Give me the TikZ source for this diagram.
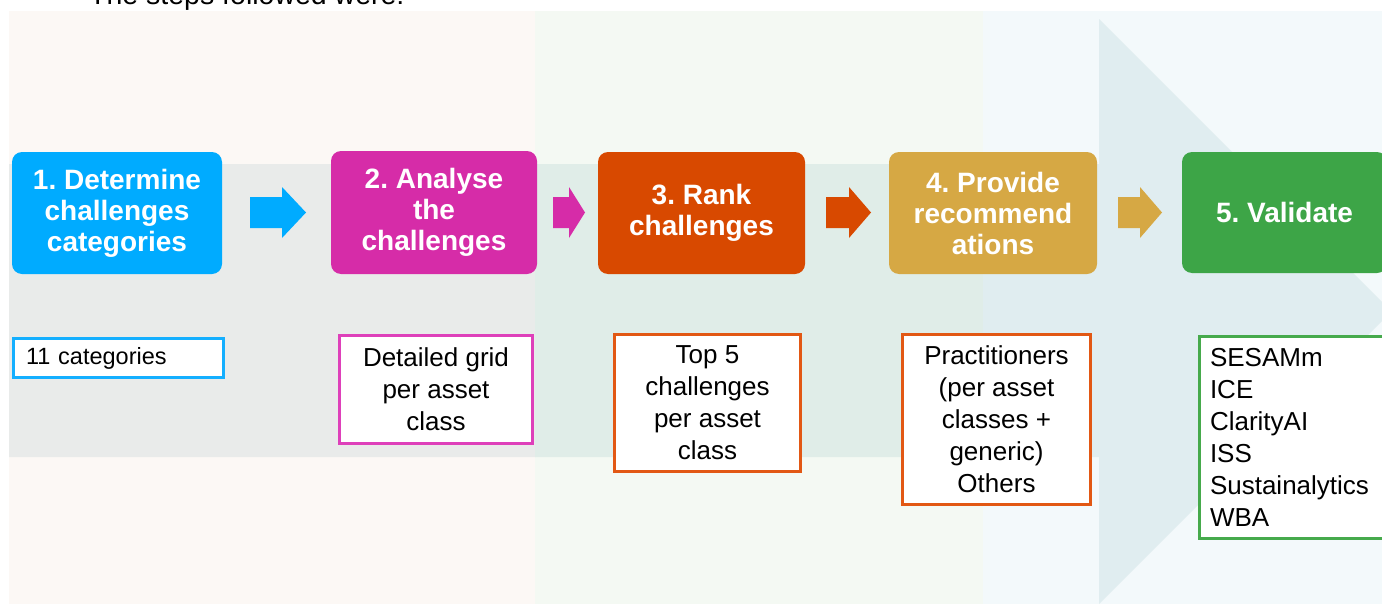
\documentclass[tikz,border=0pt]{standalone}
\usepackage{fontspec}
\setmainfont{Liberation Sans}
\frenchspacing

% step colours
\definecolor{stepblue}{RGB}{0,171,255}
\definecolor{stepmagenta}{RGB}{214,44,168}
\definecolor{steporange}{RGB}{216,73,0}
\definecolor{stepgold}{RGB}{214,168,68}
\definecolor{stepgreen}{RGB}{61,165,71}
% outline colours of the result boxes
\definecolor{edgeblue}{RGB}{20,175,255}
\definecolor{edgemagenta}{RGB}{222,64,186}
\definecolor{edgeorange}{RGB}{226,88,20}
\definecolor{edgegreen}{RGB}{70,170,76}
% background panels and the big arrow over each of them
\definecolor{panelpeach}{RGB}{252,248,245}
\definecolor{panelmint}{RGB}{244,249,243}
\definecolor{panelice}{RGB}{243,249,251}
\definecolor{bandpeach}{RGB}{233,235,234}
\definecolor{bandmint}{RGB}{224,237,232}
\definecolor{bandice}{RGB}{224,237,240}

% the wide process arrow behind all steps
\newcommand\bandshape[1]{\fill[#1] (9,164) -- (1099,164) -- (1099,19) -- (1391.5,311.5) -- (1099,604) -- (1099,457) -- (9,457) -- cycle;}
% short block arrow between two steps: colour, tail x, head base x, tip x
\newcommand\fatarrow[4]{\fill[#1] (#2,197) -- (#3,197) -- (#3,187) -- (#4,212.5) -- (#3,238) -- (#3,228) -- (#2,228) -- cycle;}

\begin{document}
\begin{tikzpicture}[x=1pt,y=-1pt,
  stepbox/.style={rounded corners=10pt, fill=#1, text=white, inner sep=0pt,
    font=\bfseries\fontsize{28}{31}\selectfont, align=center},
  resultbox/.style={draw=#1, line width=3pt, fill=white, inner sep=0pt,
    font=\fontsize{26}{32}\selectfont, align=center}]

\useasboundingbox (0,0) rectangle (1382,605);

% heading line above the figure
\node[anchor=base west, inner sep=0pt, font=\fontsize{28.5}{30}\selectfont] (heading) at (89,5) {The steps followed were:};

% background panels
\fill[panelpeach] (9,11) rectangle (535,604);
\fill[panelmint] (535,11) rectangle (983,604);
\fill[panelice] (983,11) rectangle (1382,604);

% process arrow, tinted per panel
\begin{scope}
  \clip (9,11) rectangle (535,604);
  \bandshape{bandpeach}
\end{scope}
\begin{scope}
  \clip (535,11) rectangle (983,604);
  \bandshape{bandmint}
\end{scope}
\begin{scope}
  \clip (983,11) rectangle (1400,604);
  \bandshape{bandice}
\end{scope}

% steps
\node[stepbox=stepblue, minimum width=210, minimum height=122] (s1) at (117,213)
  {1. Determine\\challenges\\categories};
\node[stepbox=stepmagenta, minimum width=206, minimum height=123] (s2) at (434,212.5)
  {2. Analyse\\the\\challenges};
\node[stepbox=steporange, minimum width=207, minimum height=122] (s3) at (701.5,213)
  {3. Rank\\challenges};
\node[stepbox=stepgold, minimum width=208, minimum height=122] (s4) at (993,213)
  {4. Provide\\recommend\\ations};
\node[stepbox=stepgreen, minimum width=205, minimum height=121] (s5) at (1284.5,212.5)
  {5. Validate};

% arrows between steps
\fatarrow{stepblue}{250}{282}{306}
\fatarrow{stepmagenta}{553}{569}{585}
\fatarrow{steporange}{826}{849}{871}
\fatarrow{stepgold}{1118}{1140}{1162}

% results of each step
\node[resultbox=edgeblue, minimum width=210, minimum height=39, text width=185,
  align=left, font=\fontsize{23.5}{28}\selectfont] (r1) at (118.5,358) {\raisebox{-2.5pt}{11 categories}};
\node[resultbox=edgemagenta, minimum width=193, minimum height=108] (r2) at (436,389.5)
  {Detailed grid\\per asset\\class};
\node[resultbox=edgeorange, minimum width=186, minimum height=137] (r3) at (707.5,403)
  {Top 5\\challenges\\per asset\\class};
\node[resultbox=edgeorange, minimum width=188, minimum height=170] (r4) at (996.5,419.5)
  {Practitioners\\(per asset\\classes +\\generic)\\Others};
\node[resultbox=edgegreen, minimum width=189, minimum height=202, text width=168,
  align=left] (r5) at (1294,437.5)
  {SESAMm\\ICE\\ClarityAI\\ISS\\Sustainalytics\\WBA};

\end{tikzpicture}
\end{document}
